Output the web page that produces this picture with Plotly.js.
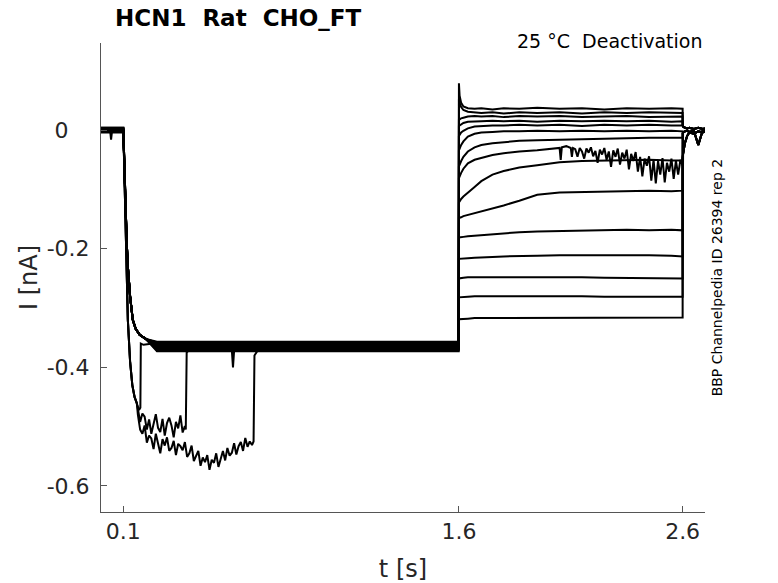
<!DOCTYPE html>
<html>
<head>
<meta charset="utf-8">
<script src="https://cdn.plot.ly/plotly-3.0.1.min.js"></script>
<style>
  html, body { margin: 0; padding: 0; background: #fff; }
  #plot { width: 778px; height: 583px; }
</style>
</head>
<body>
<div id="plot"></div>
<script>
// ---- data (t in s, I in nA) ----

// holding segment before the activation step
const holdT = [0, 0.04, 0.045, 0.05, 0.1];
const holdLevel = [0.003, -0.002, 0.001, 0.004, -0.003, 0.000, 0.002, -0.004, 0.003, -0.001, 0.001, -0.002, 0.004, 0.000, -0.003];
const holdDip = [0.002, 0.002, -0.016, 0.001, 0.002];

// activation: the main bundle
const actT = [0.1, 0.105, 0.11, 0.115, 0.12, 0.13, 0.142, 0.155, 0.173, 0.2];
const actI = [0, -0.07, -0.14, -0.19, -0.23, -0.28, -0.32, -0.335, -0.345, -0.352];
const plateauT = [0.25, 0.4, 0.55, 0.7, 0.85, 1.0, 1.15, 1.3, 1.45, 1.599];
const plateauLevel = [-0.362, -0.357, -0.368, -0.360, -0.371, -0.364, -0.358, -0.373, -0.366, -0.361, -0.369, -0.363, -0.359, -0.370, -0.365];

// activation: the three deeper sweeps
const deepT = [0.1, 0.105, 0.11, 0.115, 0.12, 0.13, 0.14, 0.15, 0.16];
const deepI = [0, -0.08, -0.17, -0.25, -0.32, -0.39, -0.43, -0.45, -0.46];
const deepAT = [0.165, 0.17, 0.176, 0.178, 0.19];
const deepA = [-0.465, -0.472, -0.468, -0.36, -0.362];
const deepBT = [0.165, 0.175, 0.185, 0.195, 0.205, 0.215, 0.225, 0.235, 0.245, 0.255, 0.265, 0.275, 0.285, 0.295, 0.305, 0.315, 0.325, 0.335, 0.345, 0.355, 0.365, 0.375,
                0.379, 0.383, 0.4, 0.5, 0.585, 0.59, 0.595, 0.65];
const deepB = [-0.47, -0.492, -0.478, -0.483, -0.505, -0.488, -0.512, -0.497, -0.479, -0.502, -0.509, -0.487, -0.515, -0.494, -0.485, -0.498, -0.518, -0.492, -0.503, -0.481, -0.51, -0.499,
               -0.505, -0.375, -0.368, -0.37, -0.372, -0.40, -0.372, -0.37];
const deepCT = [0.165, 0.175, 0.185, 0.195, 0.205, 0.215, 0.225, 0.235, 0.245, 0.255, 0.265, 0.275, 0.285, 0.295, 0.305, 0.315, 0.325, 0.335, 0.345, 0.355,
                0.365, 0.375, 0.385, 0.395, 0.405, 0.415, 0.425, 0.435, 0.445, 0.455, 0.465, 0.475, 0.485, 0.495, 0.505, 0.515, 0.525, 0.535, 0.545, 0.555,
                0.565, 0.575, 0.585, 0.595, 0.605, 0.615, 0.625, 0.635, 0.645, 0.655, 0.665, 0.675, 0.682, 0.686, 0.7];
const deepC = [-0.48, -0.505, -0.512, -0.498, -0.527, -0.515, -0.52, -0.538, -0.512, -0.53, -0.545, -0.521, -0.532, -0.518, -0.541, -0.536, -0.524, -0.548, -0.529, -0.533,
               -0.54, -0.526, -0.551, -0.545, -0.532, -0.558, -0.549, -0.541, -0.566, -0.552, -0.56, -0.548, -0.573, -0.556, -0.561, -0.545, -0.568, -0.553, -0.541, -0.557,
               -0.536, -0.549, -0.544, -0.528, -0.547, -0.533, -0.526, -0.541, -0.519, -0.534, -0.525, -0.531, -0.525, -0.38, -0.372];

// deactivation step, one array per sweep
const deacT = [1.6, 1.603, 1.61, 1.62, 1.64, 1.67, 1.7, 1.75, 1.8, 1.87, 1.95, 2.05, 2.15, 2.25, 2.35, 2.45, 2.55, 2.6];
const sweep01 = [0.079, 0.058, 0.046, 0.040, 0.037, 0.036, 0.037, 0.035, 0.037, 0.036, 0.038, 0.036, 0.037, 0.035, 0.037, 0.036, 0.037, 0.036];
const sweep02 = [0.052, 0.046, 0.039, 0.034, 0.031, 0.030, 0.029, 0.030, 0.028, 0.030, 0.029, 0.030, 0.028, 0.030, 0.029, 0.030, 0.029, 0.029];
const sweep03 = [0.017, 0.018, 0.020, 0.021, 0.023, 0.024, 0.023, 0.024, 0.022, 0.024, 0.023, 0.024, 0.022, 0.023, 0.024, 0.022, 0.023, 0.023];
const sweep04 = [0.007, 0.008, 0.010, 0.012, 0.014, 0.015, 0.015, 0.016, 0.015, 0.016, 0.014, 0.016, 0.015, 0.016, 0.015, 0.016, 0.014, 0.015];
const sweep05 = [-0.010, -0.008, -0.004, -0.001, 0.003, 0.006, 0.007, 0.008, 0.008, 0.009, 0.008, 0.009, 0.007, 0.009, 0.008, 0.009, 0.008, 0.008];
const sweep06 = [-0.034, -0.031, -0.025, -0.019, -0.011, -0.006, -0.004, -0.003, -0.002, -0.002, -0.001, -0.002, -0.001, -0.002, -0.001, -0.002, -0.001, -0.002];
const sweep07 = [-0.061, -0.058, -0.052, -0.045, -0.036, -0.029, -0.025, -0.022, -0.020, -0.018, -0.017, -0.016, -0.015, -0.014, -0.014, -0.013, -0.013, -0.013];
const sweep08T = [1.6, 1.603, 1.61, 1.62, 1.64, 1.67, 1.7, 1.75, 1.8, 1.87, 1.95, 2.05, 2.055, 2.06, 2.08, 2.1, 2.105, 2.11,
                  2.12, 2.13, 2.14, 2.15, 2.16, 2.17, 2.18, 2.19, 2.20, 2.21, 2.22, 2.23, 2.24, 2.25, 2.26, 2.27, 2.28, 2.29, 2.30, 2.31, 2.32, 2.33, 2.34,
                  2.35, 2.36, 2.37, 2.38, 2.39, 2.40, 2.41, 2.42, 2.43, 2.44, 2.45, 2.46, 2.47, 2.48, 2.49, 2.50, 2.51, 2.52, 2.53, 2.54, 2.55, 2.56,
                  2.57, 2.58, 2.59, 2.60];
const sweep08 = [-0.081, -0.078, -0.072, -0.065, -0.056, -0.050, -0.047, -0.042, -0.039, -0.036, -0.034, -0.030, -0.050, -0.029, -0.027, -0.030, -0.045, -0.030,
                 -0.032, -0.045, -0.030, -0.036, -0.048, -0.031, -0.038, -0.029, -0.044, -0.035, -0.055, -0.033, -0.041, -0.030, -0.050, -0.036, -0.062, -0.034, -0.045, -0.031, -0.058, -0.038, -0.048,
                 -0.033, -0.066, -0.040, -0.052, -0.037, -0.070, -0.045, -0.078, -0.048, -0.060, -0.044, -0.085, -0.050, -0.090, -0.052, -0.075, -0.047, -0.088, -0.055, -0.070, -0.048, -0.082,
                 -0.052, -0.075, -0.050, -0.060];
const sweep09 = [-0.122, -0.120, -0.116, -0.112, -0.105, -0.096, -0.086, -0.075, -0.069, -0.063, -0.059, -0.054, -0.052, -0.051, -0.051, -0.050, -0.051, -0.051];
const sweep10 = [-0.148, -0.148, -0.147, -0.145, -0.143, -0.140, -0.137, -0.133, -0.127, -0.119, -0.109, -0.105, -0.104, -0.103, -0.103, -0.102, -0.103, -0.102];
const sweep11 = [-0.181, -0.181, -0.180, -0.180, -0.179, -0.178, -0.177, -0.175, -0.174, -0.172, -0.171, -0.170, -0.169, -0.169, -0.168, -0.169, -0.168, -0.169];
const sweep12 = [-0.217, -0.217, -0.216, -0.216, -0.216, -0.215, -0.215, -0.214, -0.213, -0.212, -0.212, -0.211, -0.211, -0.210, -0.211, -0.211, -0.212, -0.213];
const sweep13 = [-0.250, -0.250, -0.249, -0.249, -0.248, -0.248, -0.247, -0.248, -0.247, -0.248, -0.247, -0.248, -0.248, -0.249, -0.249, -0.250, -0.250, -0.250];
const sweep14 = [-0.282, -0.282, -0.282, -0.281, -0.281, -0.280, -0.280, -0.280, -0.279, -0.279, -0.280, -0.280, -0.280, -0.281, -0.281, -0.280, -0.281, -0.281];
const sweep15 = [-0.319, -0.319, -0.318, -0.318, -0.318, -0.317, -0.317, -0.317, -0.316, -0.316, -0.316, -0.316, -0.316, -0.316, -0.316, -0.316, -0.316, -0.316];

// return to holding after 2.6 s
const tailT = [2.6, 2.602, 2.61, 2.62, 2.63, 2.65, 2.67, 2.69, 2.7];
const tailHigh = [0.008, 0.006, 0.004, 0.003, 0.004, 0.002, 0.004, 0.002, 0.003];
const tailMid = [-0.006, -0.004, -0.002, -0.001, -0.003, -0.001, -0.025, 0.000, -0.001];
const tailLow = [-0.048, -0.040, -0.022, -0.010, -0.004, -0.006, -0.002, -0.004, -0.002];

// ---- build the sweeps ----
let deacSweeps = [sweep01, sweep02, sweep03, sweep04, sweep05, sweep06, sweep07, sweep08,
                  sweep09, sweep10, sweep11, sweep12, sweep13, sweep14, sweep15];
let deepSweeps = {12: [deepAT, deepA], 13: [deepBT, deepB], 14: [deepCT, deepC]};

function buildSweep(i) {
	let x = [];
	let y = [];
	for (let k = 0; k < holdT.length; k++) {
		x.push(holdT[k]);
		y.push(i == 6 ? holdDip[k] : holdLevel[i]);
	}
	if (deepSweeps[i]) {
		x.push(...deepT);
		y.push(...deepI);
		x.push(...deepSweeps[i][0]);
		y.push(...deepSweeps[i][1]);
	}
	else {
		x.push(...actT);
		y.push(...actI);
	}
	let lastT = x[x.length - 1];
	for (let t of plateauT) {
		if (t > lastT) {
			x.push(t);
			y.push(plateauLevel[i]);
		}
	}
	x.push(...(i == 7 ? sweep08T : deacT));
	y.push(...deacSweeps[i]);
	let tail = i < 5 ? tailHigh : (i < 10 ? tailMid : tailLow);
	x.push(...tailT);
	y.push(...tail);
	return {x: x, y: y};
}

let data = [];
for (let i = 0; i < deacSweeps.length; i++) {
	let s = buildSweep(i);
	data.push({
		type: 'scatter',
		mode: 'lines',
		x: s.x,
		y: s.y,
		line: {color: '#000000', width: 2},
		hoverinfo: 'skip',
		showlegend: false
	});
}

// ---- layout ----
const W = 778, H = 583;
const plotL = 101.3, plotR = 705, plotT = 43, plotB = 512.3;
function paperX(px) { return (px - plotL) / (plotR - plotL); }
function paperY(py) { return (plotB - py) / (plotB - plotT); }

let axisFont = {family: 'DejaVu Sans', size: 22, color: '#262626'};
let layout = {
	width: W,
	height: H,
	margin: {l: plotL, r: W - plotR, t: plotT, b: H - plotB, pad: 0},
	paper_bgcolor: '#ffffff',
	plot_bgcolor: '#ffffff',
	showlegend: false,
	title: {
		text: '<b>HCN1\u00a0\u00a0Rat\u00a0\u00a0CHO_FT</b>',
		font: {family: 'DejaVu Sans', size: 23, color: '#000000'},
		xref: 'container', yref: 'container',
		x: 115 / W, xanchor: 'left',
		y: 1 - 18 / H, yanchor: 'middle'
	},
	xaxis: {
		range: [0, 2.7],
		tickvals: [0.1, 1.6, 2.6],
		ticktext: ['0.1', '1.6', '2.6'],
		ticks: 'inside', ticklen: 6, tickcolor: '#555555', tickwidth: 1,
		ticklabelstandoff: 0,
		showline: true, linecolor: '#555555', linewidth: 1,
		showgrid: false, zeroline: false,
		tickfont: axisFont,
		title: {text: 't [s]', font: {family: 'DejaVu Sans', size: 24, color: '#262626'}, standoff: 16}
	},
	yaxis: {
		range: [-0.644, 0.147],
		tickvals: [-0.6, -0.4, -0.2, 0],
		ticktext: ['-0.6', '-0.4', '-0.2', '0\u2008\u2007'],
		ticks: 'inside', ticklen: 6, tickcolor: '#555555', tickwidth: 1,
		ticklabelstandoff: 6,
		showline: true, linecolor: '#555555', linewidth: 1,
		showgrid: false, zeroline: false,
		tickfont: axisFont,
		title: {text: 'I [nA]', font: {family: 'DejaVu Sans', size: 24, color: '#262626'}, standoff: 2}
	},
	annotations: [
		{
			text: '25 °C\u00a0\u00a0Deactivation',
			xref: 'paper', yref: 'paper',
			x: paperX(704), y: paperY(41),
			xanchor: 'right', yanchor: 'middle',
			showarrow: false,
			font: {family: 'DejaVu Sans', size: 19, color: '#000000'}
		},
		{
			text: 'BBP Channelpedia ID 26394 rep 2',
			xref: 'paper', yref: 'paper',
			x: paperX(717), y: paperY(277.5),
			xanchor: 'center', yanchor: 'middle',
			textangle: -90,
			showarrow: false,
			font: {family: 'DejaVu Sans', size: 14, color: '#000000'}
		}
	]
};

Plotly.newPlot('plot', data, layout, {staticPlot: true, displayModeBar: false});
</script>
</body>
</html>
